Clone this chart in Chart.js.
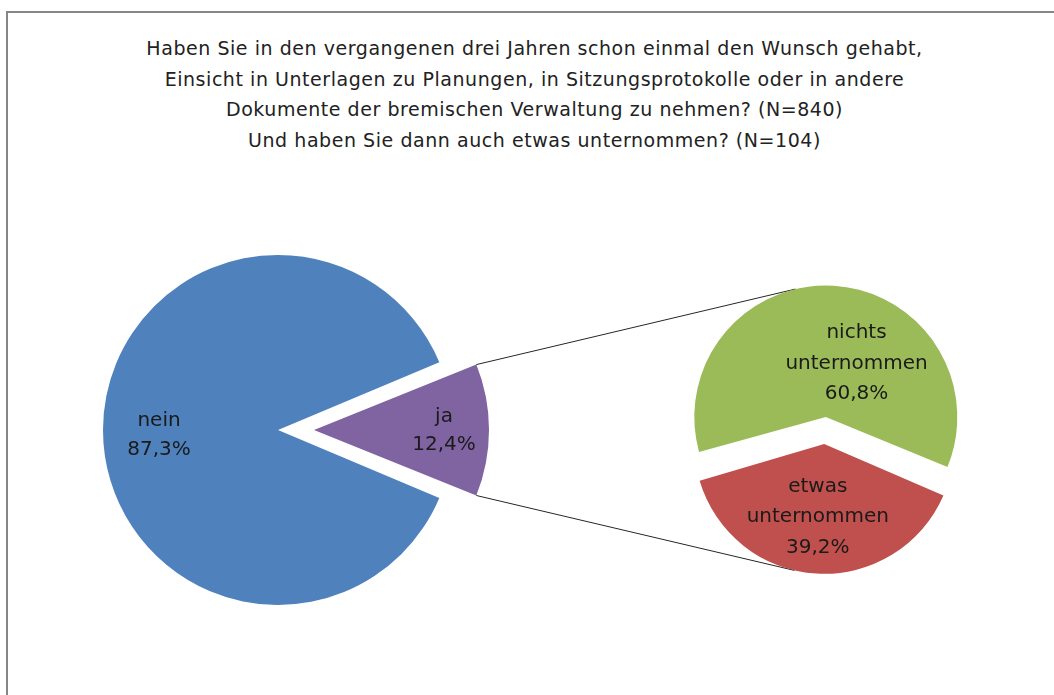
<!DOCTYPE html>
<html>
<head>
<meta charset="utf-8">
<script src="https://cdn.jsdelivr.net/npm/chart.js@4.4.0/dist/chart.umd.min.js"></script>
<style>
  html, body { margin: 0; padding: 0; background: #fff; overflow: hidden; }
  #wrap { position: relative; width: 1054px; height: 695px; overflow: hidden; }
  #frame { position: absolute; left: 6px; top: 11px; width: 1100px; height: 800px;
           border-left: 2px solid #868686; border-top: 2px solid #868686; }
  #title { position: absolute; left: 0; top: 33px; width: 1069px; text-align: center;
           font: 19px "DejaVu Sans", sans-serif; letter-spacing: 0.55px;
           line-height: 30.5px; color: #222; }
  canvas { position: absolute; left: 0; top: 0; }
</style>
</head>
<body>
<div id="wrap">
  <div id="frame"></div>
  <div id="title"></div>
  <canvas id="main-pie" width="1054" height="695"></canvas>
  <canvas id="sub-pie" width="1054" height="695"></canvas>
</div>
<script>
var titleLines = [
  'Haben Sie in den vergangenen drei Jahren schon einmal den Wunsch gehabt,',
  'Einsicht in Unterlagen zu Planungen, in Sitzungsprotokolle oder in andere',
  'Dokumente der bremischen Verwaltung zu nehmen? (N=840)',
  'Und haben Sie dann auch etwas unternommen? (N=104)'
];
var mainLabels = ['nein', 'ja'];
var mainValues = [87.3, 12.4];
var subLabels = ['nichts unternommen', 'etwas unternommen'];
var subValues = [60.8, 39.2];

document.getElementById('title').innerHTML = titleLines.join('<br>');

function pct(v) {
  return v.toFixed(1).replace('.', ',') + '%';
}

// where chart.js really paints a slice with options.offset set
// (ArcElement.draw: shift by offset/4, grow radius, trim the angle a little)
function arcShift(arc) {
  var off = (arc.options.offset || 0) / 4;
  var circ = arc.endAngle - arc.startAngle;
  var fix = 1 - Math.sin(Math.min(Math.PI, circ));
  var grow = off * fix;
  var r = arc.outerRadius + grow;
  var beta = Math.max(0.001, circ * r - grow / Math.PI) / r;
  var trim = (circ - beta) / 2;
  var mid = (arc.startAngle + arc.endAngle) / 2;
  return {
    x: arc.x + Math.cos(mid) * off,
    y: arc.y + Math.sin(mid) * off,
    r: r,
    start: arc.startAngle + trim,
    end: arc.endAngle - trim,
    mid: mid
  };
}

var sliceLabels = {
  id: 'sliceLabels',
  afterDatasetsDraw: function (chart, args, opts) {
    var ctx = chart.ctx;
    var meta = chart.getDatasetMeta(0);
    var values = chart.data.datasets[0].data;
    ctx.save();
    ctx.font = opts.font;
    ctx.fillStyle = opts.color;
    ctx.textAlign = 'center';
    ctx.textBaseline = 'middle';
    meta.data.forEach(function (arc, i) {
      var c = arcShift(arc);
      var a = c.mid + opts.turn[i] * Math.PI / 180;
      var r = c.r * opts.radius[i];
      var x = c.x + Math.cos(a) * r;
      var y = c.y + Math.sin(a) * r + opts.nudge;
      var lines = chart.data.labels[i].split(' ').concat(pct(values[i]));
      var y0 = y - (lines.length - 1) * opts.lineHeight / 2;
      lines.forEach(function (t, k) {
        ctx.fillText(t, x, y0 + k * opts.lineHeight);
      });
    });
    ctx.restore();
  }
};

function tangent(p, c, r, sign) {
  var dx = p.x - c.x, dy = p.y - c.y;
  var d = Math.sqrt(dx * dx + dy * dy);
  var t = Math.atan2(dy, dx) + sign * Math.acos(r / d);
  return { x: c.x + Math.cos(t) * r, y: c.y + Math.sin(t) * r };
}

var mainChart = new Chart(document.getElementById('main-pie'), {
  type: 'pie',
  data: {
    labels: mainLabels,
    datasets: [{
      data: mainValues,
      backgroundColor: ['#4f81bd', '#8064a2'],
      borderWidth: 0,
      offset: [32.8, 111.2]
    }]
  },
  options: {
    responsive: false,
    animation: false,
    events: [],
    rotation: 112.4,
    radius: 166.8,
    layout: { padding: { left: 0, right: 481.6, top: 165, bottom: 0 } },
    plugins: {
      legend: { display: false },
      tooltip: { enabled: false },
      sliceLabels: { font: '20px "DejaVu Sans"', color: '#1a1a1a', lineHeight: 28.5, nudge: 3,
                     radius: [0.68, 0.743], turn: [-1, -0.9] }
    }
  },
  plugins: [sliceLabels]
});

var connectors = {
  id: 'connectors',
  beforeDatasetsDraw: function (chart) {
    var j = arcShift(mainChart.getDatasetMeta(0).data[1]);
    var upper = { x: j.x + Math.cos(j.start) * j.r, y: j.y + Math.sin(j.start) * j.r };
    var lower = { x: j.x + Math.cos(j.end) * j.r, y: j.y + Math.sin(j.end) * j.r };
    var arcs = chart.getDatasetMeta(0).data;
    var g = arcShift(arcs[0]), red = arcShift(arcs[1]);
    var t1 = tangent(upper, g, g.r, 1);
    var t2 = tangent(lower, red, red.r, -1);
    var ctx = chart.ctx;
    ctx.save();
    ctx.strokeStyle = '#262626';
    ctx.lineWidth = 1;
    ctx.beginPath();
    ctx.moveTo(upper.x, upper.y);
    ctx.lineTo(t1.x, t1.y);
    ctx.moveTo(lower.x, lower.y);
    ctx.lineTo(t2.x, t2.y);
    ctx.stroke();
    ctx.restore();
  }
};

var subChart = new Chart(document.getElementById('sub-pie'), {
  type: 'pie',
  data: {
    labels: subLabels,
    datasets: [{
      data: subValues,
      backgroundColor: ['#9bbb59', '#c0504d'],
      borderWidth: 0,
      offset: [34, 74]
    }]
  },
  options: {
    responsive: false,
    animation: false,
    events: [],
    rotation: 254,
    radius: 123,
    layout: { padding: { left: 596.6, right: 0, top: 156, bottom: 0 } },
    plugins: {
      legend: { display: false },
      tooltip: { enabled: false },
      sliceLabels: { font: '20px "DejaVu Sans"', color: '#1a1a1a', lineHeight: 30.5, nudge: 3,
                     radius: [0.49, 0.54], turn: [25, 1.8] }
    }
  },
  plugins: [connectors, sliceLabels]
});
</script>
</body>
</html>
